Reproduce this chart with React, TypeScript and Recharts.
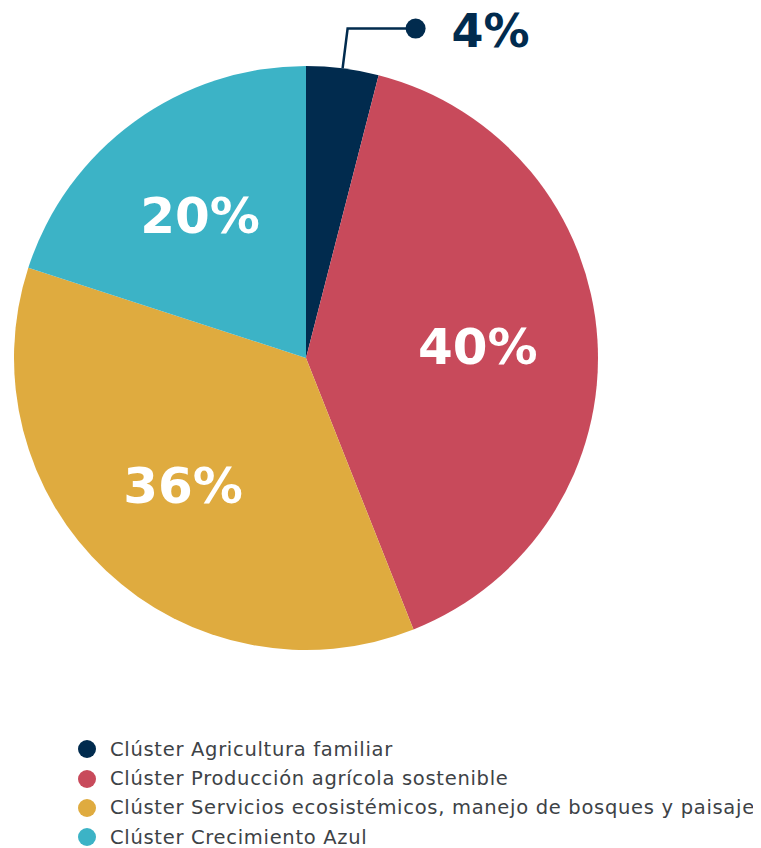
import React from 'react';
import { PieChart, Pie, Cell, Legend } from 'recharts';

const categories = [
  'Clúster Agricultura familiar',
  'Clúster Producción agrícola sostenible',
  'Clúster Servicios ecosistémicos, manejo de bosques y paisaje',
  'Clúster Crecimiento Azul',
];
const values = [4, 40, 36, 20];
const colors = ['#012b4e', '#c84a5b', '#dfab3f', '#3cb3c6'];

const data = categories.map((name, i) => ({ name, value: values[i] }));
const RADIAN = Math.PI / 180;
const BOLD_FONT = '"DejaVu Sans", sans-serif';
const FONT = '"DejaVu Sans", sans-serif';

const renderLabel = (props: any) => {
  const { cx, cy, midAngle, outerRadius, value, index } = props;
  const cos = Math.cos(-midAngle * RADIAN);
  const sin = Math.sin(-midAngle * RADIAN);
  if (value < 10) {
    const x1 = cx + outerRadius * cos;
    const y1 = cy + outerRadius * sin;
    const x2 = cx + (outerRadius + 40) * cos;
    const y2 = cy + (outerRadius + 40) * sin;
    const x3 = x2 + 68;
    return (
      <g key={`l${index}`}>
        <polyline points={`${x1},${y1} ${x2},${y2} ${x3},${y2}`} fill="none" stroke={colors[index]} strokeWidth={2.5} />
        <circle cx={x3} cy={y2} r={10} fill={colors[index]} />
        <text x={x3 + 36} y={y2 + 18} fill={colors[index]} fontFamily={BOLD_FONT} fontWeight={700} fontSize={46}>
          {`${value}%`}
        </text>
      </g>
    );
  }
  const r = outerRadius * 0.6;
  const x = cx + r * cos;
  const y = cy + r * sin;
  return (
    <text key={`l${index}`} x={x - 3} y={y} textAnchor="middle" dominantBaseline="central" fill="#ffffff" fontFamily={BOLD_FONT} fontWeight={700} fontSize={50}>
      {`${value}%`}
    </text>
  );
};

const renderLegend = () => (
  <div style={{ paddingLeft: 70 }}>
    {data.map((d, i) => (
      <div key={d.name} style={{ display: 'flex', alignItems: 'center', height: 29.4 }}>
        <span style={{ width: 18, height: 18, borderRadius: 9, background: colors[i], display: 'inline-block', marginRight: 14, flexShrink: 0 }} />
        <span style={{ fontFamily: FONT, fontSize: 19.5, letterSpacing: 0.7, color: '#3d4246', whiteSpace: 'nowrap' }}>{d.name}</span>
      </div>
    ))}
  </div>
);

export default function App() {
  return (
    <PieChart width={753} height={840} margin={{ top: 0, right: 0, bottom: 0, left: 0 }} style={{ overflow: 'visible' }}>
      <Pie
        data={data}
        dataKey="value"
        nameKey="name"
        cx={298}
        cy={350}
        outerRadius={292}
        startAngle={90}
        endAngle={-270}
        stroke="none"
        label={renderLabel}
        labelLine={false}
        isAnimationActive={false}
      >
        {data.map((d, i) => (
          <Cell key={d.name} fill={colors[i]} />
        ))}
      </Pie>
      <Legend
        layout="horizontal"
        verticalAlign="bottom"
        align="left"
        content={renderLegend}
        wrapperStyle={{ left: 0, bottom: -4, width: 753, overflow: 'visible' }}
      />
    </PieChart>
  );
}
